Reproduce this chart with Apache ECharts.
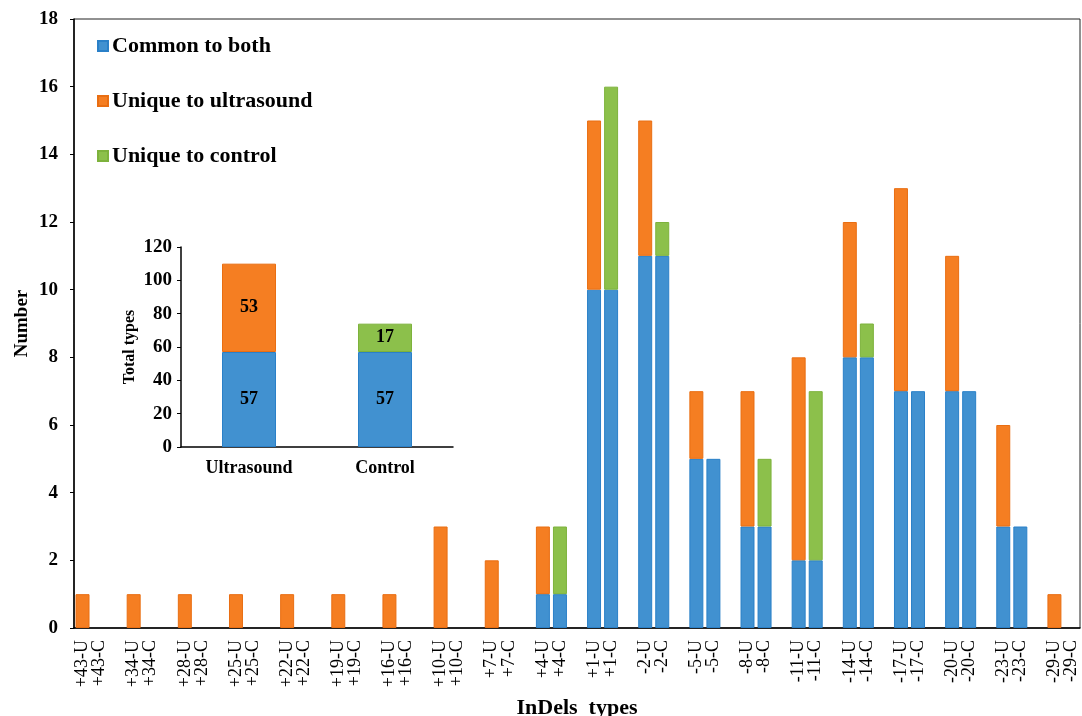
<!DOCTYPE html>
<html>
<head>
<meta charset="utf-8">
<script src="https://cdn.jsdelivr.net/npm/echarts@6/dist/echarts.min.js"></script>
<style>
  html, body { margin: 0; padding: 0; background: #fff; }
  #chart { width: 1082px; height: 716px; }
</style>
</head>
<body>
<div id="chart"></div>
<script>
// InDel size classes (insertions +, deletions -)
const pairs = ['+43', '+34', '+28', '+25', '+22', '+19', '+16', '+10', '+7', '+4',
               '+1', '-2', '-5', '-8', '-11', '-14', '-17', '-20', '-23', '-29'];
// counts per class
const commonBoth       = [0, 0, 0, 0, 0, 0, 0, 0, 0, 1, 10, 11, 5, 3, 2, 8, 7, 7, 3, 0];
const uniqueUltrasound = [1, 1, 1, 1, 1, 1, 1, 3, 2, 2, 5, 4, 2, 4, 6, 4, 6, 4, 3, 1];
const uniqueControl    = [0, 0, 0, 0, 0, 0, 0, 0, 0, 2, 6, 1, 0, 2, 5, 1, 0, 0, 0, 0];
const yTicks = { min: 0, max: 18, interval: 2 };

// totals for the inset chart
const totalCategories = ['Ultrasound', 'Control'];
const totalCommon = [57, 57];
const totalUniqueUltrasound = [53, null];
const totalUniqueControl = [null, 17];
const totalTicks = { min: 0, max: 120, interval: 20 };

const seriesNames = ['Common to both', 'Unique to ultrasound', 'Unique to control'];
const colors = { common: '#4191D0', ultra: '#F57E22', ctrl: '#8CC04B' };
const borders = { common: '#2A80C8', ultra: '#E96E12', ctrl: '#7DB23C' };
const serif = '"Liberation Serif", "Times New Roman", serif';

// Each class gets a U slot, a C slot and a spacer slot (no spacer after the last)
const categories = [];
const sCommon = [], sUltra = [], sCtrl = [];
const nz = v => (v ? v : null);
pairs.forEach((p, i) => {
  categories.push(p + '-U', p + '-C');
  sCommon.push(nz(commonBoth[i]), nz(commonBoth[i]));
  sUltra.push(nz(uniqueUltrasound[i]), null);
  sCtrl.push(null, nz(uniqueControl[i]));
  if (i < pairs.length - 1) {
    categories.push('spacer' + i);
    sCommon.push(null); sUltra.push(null); sCtrl.push(null);
  }
});

const barCommon = { type: 'bar', stack: 'main', barWidth: '82%' };
const insetLabel = {
  show: true, position: 'inside', color: '#000',
  fontFamily: serif, fontWeight: 'bold', fontSize: 18
};

const chart = echarts.init(document.getElementById('chart'), null, { renderer: 'canvas' });
chart.setOption({
  animation: false,
  backgroundColor: '#fff',
  textStyle: { fontFamily: serif, color: '#000' },
  legend: {
    data: seriesNames,
    orient: 'vertical',
    left: 92, top: 30,
    itemGap: 33,
    itemWidth: 10, itemHeight: 10,
    icon: 'rect',
    selectedMode: false,
    textStyle: { fontFamily: serif, fontWeight: 'bold', fontSize: 22, color: '#000', padding: [0, 0, 0, -1] }
  },
  grid: [
    { left: 74, right: 2, top: 19, bottom: 88, show: true, borderColor: '#222', borderWidth: 1,
      outerBoundsMode: 'none', containLabel: false },
    { left: 181, top: 247, width: 272, height: 200, outerBoundsMode: 'none', containLabel: false }
  ],
  xAxis: [
    {
      gridIndex: 0, type: 'category', data: categories,
      name: 'InDels  types', nameLocation: 'middle', nameGap: 69, nameMoveOverlap: false,
      nameTextStyle: { fontFamily: serif, fontWeight: 'bold', fontSize: 22, color: '#000' },
      axisLine: { lineStyle: { color: '#000', width: 1.5 } },
      axisTick: { show: false },
      axisLabel: {
        interval: 0, rotate: 90, margin: 12,
        fontFamily: serif, fontSize: 18, color: '#000',
        formatter: v => (v.indexOf('spacer') === 0 ? '' : v)
      }
    },
    {
      gridIndex: 1, type: 'category', data: totalCategories,
      axisLine: { lineStyle: { color: '#000', width: 1.5 } },
      axisTick: { show: false },
      axisLabel: { margin: 12, fontFamily: serif, fontWeight: 'bold', fontSize: 18, color: '#000' }
    }
  ],
  yAxis: [
    {
      gridIndex: 0, type: 'value', min: yTicks.min, max: yTicks.max, interval: yTicks.interval,
      name: 'Number', nameLocation: 'middle', nameGap: 42, nameRotate: 90, nameMoveOverlap: false,
      nameTextStyle: { fontFamily: serif, fontWeight: 'bold', fontSize: 19, color: '#000' },
      axisLine: { show: true, lineStyle: { color: '#000', width: 1.5 } },
      axisTick: { show: true, length: 4, lineStyle: { color: '#000' } },
      splitLine: { show: false },
      axisLabel: { margin: 16, fontFamily: serif, fontWeight: 'bold', fontSize: 19, color: '#000' }
    },
    {
      gridIndex: 1, type: 'value', min: totalTicks.min, max: totalTicks.max, interval: totalTicks.interval,
      name: 'Total types', nameLocation: 'middle', nameGap: 43, nameRotate: 90,
      nameTextStyle: { fontFamily: serif, fontWeight: 'bold', fontSize: 16, color: '#000' },
      axisLine: { show: true, lineStyle: { color: '#000', width: 1.5 } },
      axisTick: { show: true, length: 4, lineStyle: { color: '#000' } },
      splitLine: { show: false },
      axisLabel: { margin: 9, fontFamily: serif, fontWeight: 'bold', fontSize: 19, color: '#000' }
    }
  ],
  series: [
    Object.assign({ name: seriesNames[0], data: sCommon, xAxisIndex: 0, yAxisIndex: 0,
      itemStyle: { color: colors.common, borderColor: borders.common, borderWidth: 1 } }, barCommon),
    Object.assign({ name: seriesNames[1], data: sUltra, xAxisIndex: 0, yAxisIndex: 0,
      itemStyle: { color: colors.ultra, borderColor: borders.ultra, borderWidth: 1 } }, barCommon),
    Object.assign({ name: seriesNames[2], data: sCtrl, xAxisIndex: 0, yAxisIndex: 0,
      itemStyle: { color: colors.ctrl, borderColor: borders.ctrl, borderWidth: 1 } }, barCommon),
    {
      name: seriesNames[0], type: 'bar', stack: 'total', xAxisIndex: 1, yAxisIndex: 1,
      barWidth: 54, data: totalCommon, label: insetLabel,
      itemStyle: { color: colors.common, borderColor: borders.common, borderWidth: 1 }
    },
    {
      name: seriesNames[1], type: 'bar', stack: 'total', xAxisIndex: 1, yAxisIndex: 1,
      barWidth: 54, data: totalUniqueUltrasound, label: insetLabel,
      itemStyle: { color: colors.ultra, borderColor: borders.ultra, borderWidth: 1 }
    },
    {
      name: seriesNames[2], type: 'bar', stack: 'total', xAxisIndex: 1, yAxisIndex: 1,
      barWidth: 54, data: totalUniqueControl, label: insetLabel,
      itemStyle: { color: colors.ctrl, borderColor: borders.ctrl, borderWidth: 1 }
    }
  ]
});
</script>
</body>
</html>
